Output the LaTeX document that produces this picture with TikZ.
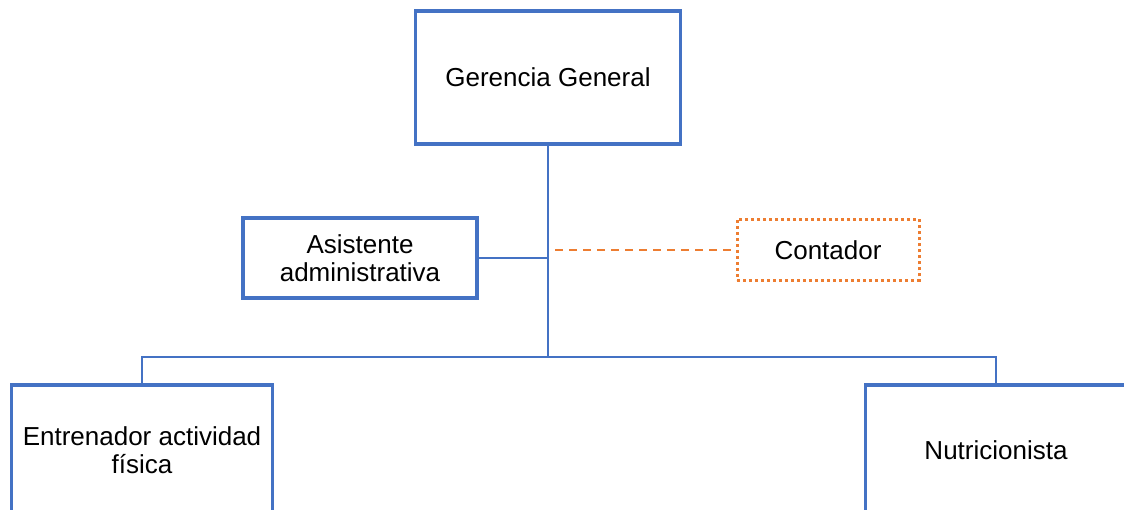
\documentclass[tikz,border=0pt]{standalone}
\usepackage{fontspec}
\setmainfont{Liberation Sans}
\definecolor{boxblue}{HTML}{4472C4}
\definecolor{boxorange}{HTML}{ED7D31}
\begin{document}
\begin{tikzpicture}[x=1pt,y=-1pt,
  orgbox/.style={draw=boxblue,line width=3.2pt,fill=white,inner sep=0pt,align=center,
    font=\fontsize{26}{28}\selectfont},
  extbox/.style={draw=boxorange,line width=3pt,dash pattern=on 3pt off 3pt,fill=white,inner sep=0pt,align=center,
    font=\fontsize{26}{28}\selectfont},
  link/.style={draw=boxblue,line width=2.3pt},
  extlink/.style={draw=boxorange,line width=2pt,dash pattern=on 8pt off 6pt}]
\useasboundingbox (0,0) rectangle (1124,510);
\clip (0,0) rectangle (1124,510);
\node[orgbox,minimum width=265pt,minimum height=133pt] (gg) at (548,77.5) {Gerencia General};
\node[orgbox,minimum width=234pt,minimum height=80pt] (asis) at (360,258) {Asistente\\administrativa};
\node[extbox,minimum width=182pt,minimum height=61pt] (cont) at (828,250) {Contador};
\node[orgbox,minimum width=261pt,minimum height=130pt] (ent) at (142,450) {Entrenador actividad\\física};
\node[orgbox,minimum width=261pt,minimum height=130pt] (nut) at (996,450) {Nutricionista};
\coordinate (j) at (548,258);
\coordinate (bus) at (548,357);
\coordinate (ds) at (555,250);
\draw[link] (gg.south) -- (bus);
\draw[link] (asis.east) -- (j);
\draw[link] (ent.north) |- (bus) -| (nut.north);
\draw[extlink] (ds) -- (cont.west);
\end{tikzpicture}
\end{document}
